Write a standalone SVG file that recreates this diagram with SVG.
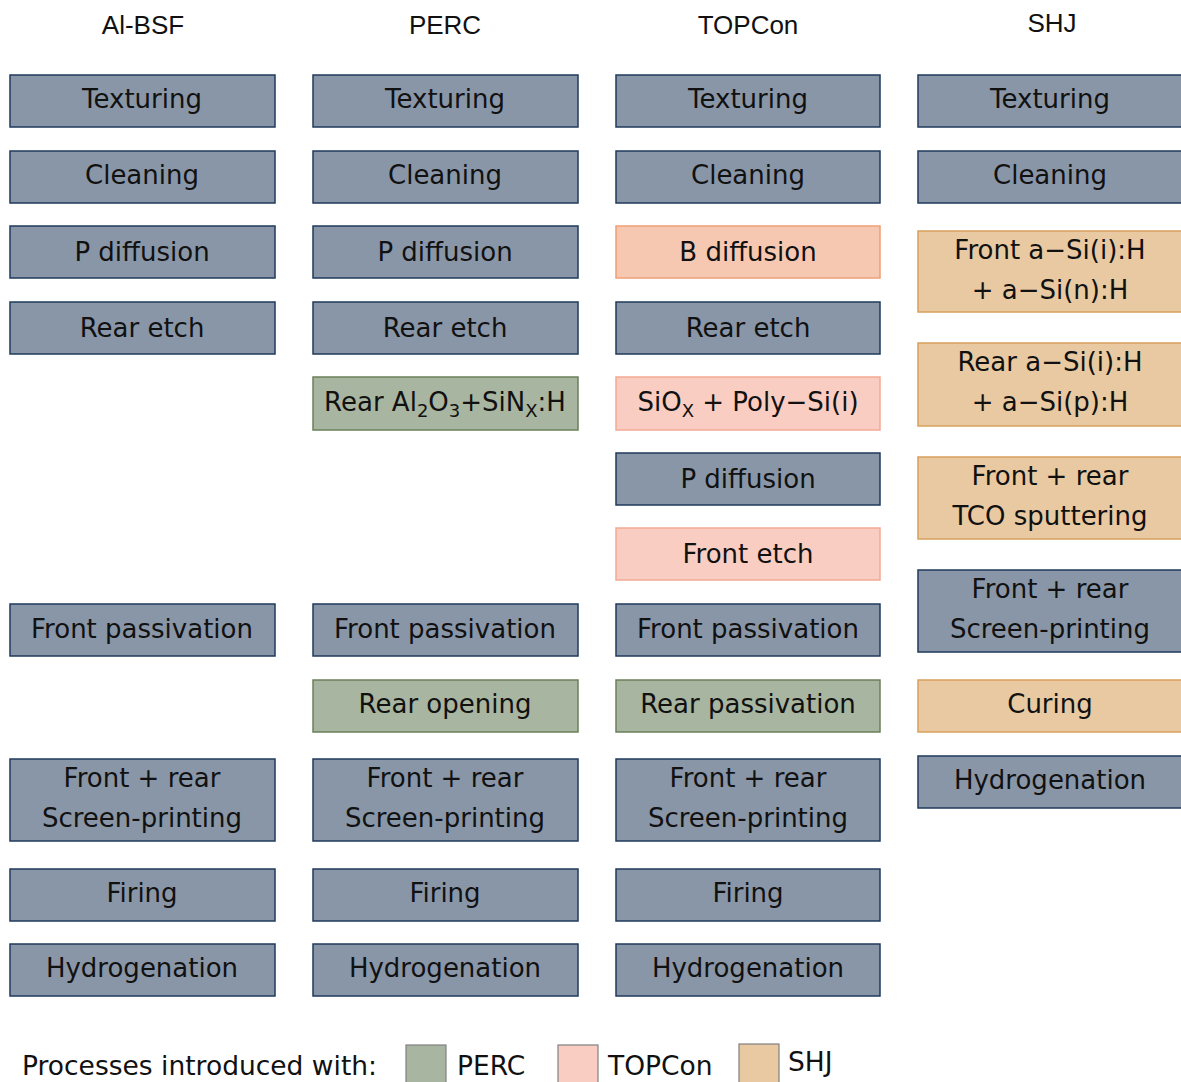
<svg xmlns="http://www.w3.org/2000/svg" width="1181" height="1082" viewBox="0 0 1181 1082">
<style>
.b{fill:#8996a8;stroke:#1f3a5c;stroke-width:1.5}
.g{fill:#a8b5a0;stroke:#6b805a;stroke-width:1.5}
.p{fill:#f9cdc2;stroke:#f2a994;stroke-width:1.5}
.pb{fill:#f6c8b2;stroke:#ef9f76;stroke-width:1.5}
.s{fill:#e8c9a2;stroke:#d8a05c;stroke-width:1.5}
.t{font-family:"DejaVu Sans",Verdana,sans-serif;font-size:26px;fill:#111;text-anchor:middle}
.h{font-family:"Liberation Sans",Arial,sans-serif;font-size:26px;fill:#111;text-anchor:middle}
.l{font-family:"DejaVu Sans",Verdana,sans-serif;font-size:26.5px;fill:#111}
.lg{stroke:#808080;stroke-width:1.2}
</style>
<rect width="1181" height="1082" fill="#fff"/>
<g id="headers">
<text class="h" x="143" y="34">Al-BSF</text>
<text class="h" x="445" y="34">PERC</text>
<text class="h" x="748" y="34">TOPCon</text>
<text class="h" x="1052" y="32">SHJ</text>
</g>
<g id="connectors"></g>
<!-- Al-BSF -->
<g id="albsf-texturing"><rect class="b" x="10" y="75" width="265" height="52"/><text class="t" x="142" y="108">Texturing</text></g>
<g id="albsf-cleaning"><rect class="b" x="10" y="151" width="265" height="52"/><text class="t" x="142" y="184">Cleaning</text></g>
<g id="albsf-pdiff"><rect class="b" x="10" y="226" width="265" height="52"/><text class="t" x="142" y="261">P diffusion</text></g>
<g id="albsf-rearetch"><rect class="b" x="10" y="302" width="265" height="52"/><text class="t" x="142" y="337">Rear etch</text></g>
<g id="albsf-frontpass"><rect class="b" x="10" y="604" width="265" height="52"/><text class="t" x="142" y="638">Front passivation</text></g>
<g id="albsf-screen"><rect class="b" x="10" y="759" width="265" height="82"/><text class="t" x="142" y="787">Front + rear</text><text class="t" x="142" y="827">Screen-printing</text></g>
<g id="albsf-firing"><rect class="b" x="10" y="869" width="265" height="52"/><text class="t" x="142" y="902">Firing</text></g>
<g id="albsf-hydro"><rect class="b" x="10" y="944" width="265" height="52"/><text class="t" x="142" y="977">Hydrogenation</text></g>
<!-- PERC -->
<g id="perc-texturing"><rect class="b" x="313" y="75" width="265" height="52"/><text class="t" x="445" y="108">Texturing</text></g>
<g id="perc-cleaning"><rect class="b" x="313" y="151" width="265" height="52"/><text class="t" x="445" y="184">Cleaning</text></g>
<g id="perc-pdiff"><rect class="b" x="313" y="226" width="265" height="52"/><text class="t" x="445" y="261">P diffusion</text></g>
<g id="perc-rearetch"><rect class="b" x="313" y="302" width="265" height="52"/><text class="t" x="445" y="337">Rear etch</text></g>
<g id="perc-rearal2o3"><rect class="g" x="313" y="377" width="265" height="53"/><text class="t" x="445" y="411">Rear Al<tspan font-size="18" dy="6">2</tspan><tspan dy="-6">O</tspan><tspan font-size="18" dy="6">3</tspan><tspan dy="-6">+SiN</tspan><tspan font-size="18" dy="6">X</tspan><tspan dy="-6">:H</tspan></text></g>
<g id="perc-frontpass"><rect class="b" x="313" y="604" width="265" height="52"/><text class="t" x="445" y="638">Front passivation</text></g>
<g id="perc-rearopen"><rect class="g" x="313" y="680" width="265" height="52"/><text class="t" x="445" y="713">Rear opening</text></g>
<g id="perc-screen"><rect class="b" x="313" y="759" width="265" height="82"/><text class="t" x="445" y="787">Front + rear</text><text class="t" x="445" y="827">Screen-printing</text></g>
<g id="perc-firing"><rect class="b" x="313" y="869" width="265" height="52"/><text class="t" x="445" y="902">Firing</text></g>
<g id="perc-hydro"><rect class="b" x="313" y="944" width="265" height="52"/><text class="t" x="445" y="977">Hydrogenation</text></g>
<!-- TOPCon -->
<g id="topcon-texturing"><rect class="b" x="616" y="75" width="264" height="52"/><text class="t" x="748" y="108">Texturing</text></g>
<g id="topcon-cleaning"><rect class="b" x="616" y="151" width="264" height="52"/><text class="t" x="748" y="184">Cleaning</text></g>
<g id="topcon-bdiff"><rect class="pb" x="616" y="226" width="264" height="52"/><text class="t" x="748" y="261">B diffusion</text></g>
<g id="topcon-rearetch"><rect class="b" x="616" y="302" width="264" height="52"/><text class="t" x="748" y="337">Rear etch</text></g>
<g id="topcon-siox"><rect class="p" x="616" y="377" width="264" height="53"/><text class="t" x="748" y="411">SiO<tspan font-size="18" dy="6">X</tspan><tspan dy="-6"> + Poly−Si(i)</tspan></text></g>
<g id="topcon-pdiff"><rect class="b" x="616" y="453" width="264" height="52"/><text class="t" x="748" y="488">P diffusion</text></g>
<g id="topcon-frontetch"><rect class="p" x="616" y="528" width="264" height="52"/><text class="t" x="748" y="563">Front etch</text></g>
<g id="topcon-frontpass"><rect class="b" x="616" y="604" width="264" height="52"/><text class="t" x="748" y="638">Front passivation</text></g>
<g id="topcon-rearpass"><rect class="g" x="616" y="680" width="264" height="52"/><text class="t" x="748" y="713">Rear passivation</text></g>
<g id="topcon-screen"><rect class="b" x="616" y="759" width="264" height="82"/><text class="t" x="748" y="787">Front + rear</text><text class="t" x="748" y="827">Screen-printing</text></g>
<g id="topcon-firing"><rect class="b" x="616" y="869" width="264" height="52"/><text class="t" x="748" y="902">Firing</text></g>
<g id="topcon-hydro"><rect class="b" x="616" y="944" width="264" height="52"/><text class="t" x="748" y="977">Hydrogenation</text></g>
<!-- SHJ -->
<g id="shj-texturing"><rect class="b" x="918" y="75" width="265" height="52"/><text class="t" x="1050" y="108">Texturing</text></g>
<g id="shj-cleaning"><rect class="b" x="918" y="151" width="265" height="52"/><text class="t" x="1050" y="184">Cleaning</text></g>
<g id="shj-front-asi"><rect class="s" x="918" y="231" width="265" height="81"/><text class="t" x="1050" y="259">Front a−Si(i):H</text><text class="t" x="1050" y="299">+ a−Si(n):H</text></g>
<g id="shj-rear-asi"><rect class="s" x="918" y="343" width="265" height="83"/><text class="t" x="1050" y="371">Rear a−Si(i):H</text><text class="t" x="1050" y="411">+ a−Si(p):H</text></g>
<g id="shj-tco"><rect class="s" x="918" y="457" width="265" height="82"/><text class="t" x="1050" y="485">Front + rear</text><text class="t" x="1050" y="525">TCO sputtering</text></g>
<g id="shj-screen"><rect class="b" x="918" y="570" width="265" height="82"/><text class="t" x="1050" y="598">Front + rear</text><text class="t" x="1050" y="638">Screen-printing</text></g>
<g id="shj-curing"><rect class="s" x="918" y="680" width="265" height="52"/><text class="t" x="1050" y="713">Curing</text></g>
<g id="shj-hydro"><rect class="b" x="918" y="756" width="265" height="52"/><text class="t" x="1050" y="789">Hydrogenation</text></g>
<!-- legend -->
<g id="legend">
<text class="l" x="22" y="1075">Processes introduced with:</text>
<rect class="lg" x="406" y="1045" width="40" height="40" fill="#a8b5a0"/>
<text class="l" x="457" y="1075">PERC</text>
<rect class="lg" x="558" y="1045" width="40" height="40" fill="#f9cdc2"/>
<text class="l" x="608" y="1075">TOPCon</text>
<rect class="lg" x="739" y="1044" width="40" height="40" fill="#e8c9a2"/>
<text class="l" x="788" y="1071">SHJ</text>
</g>
</svg>
